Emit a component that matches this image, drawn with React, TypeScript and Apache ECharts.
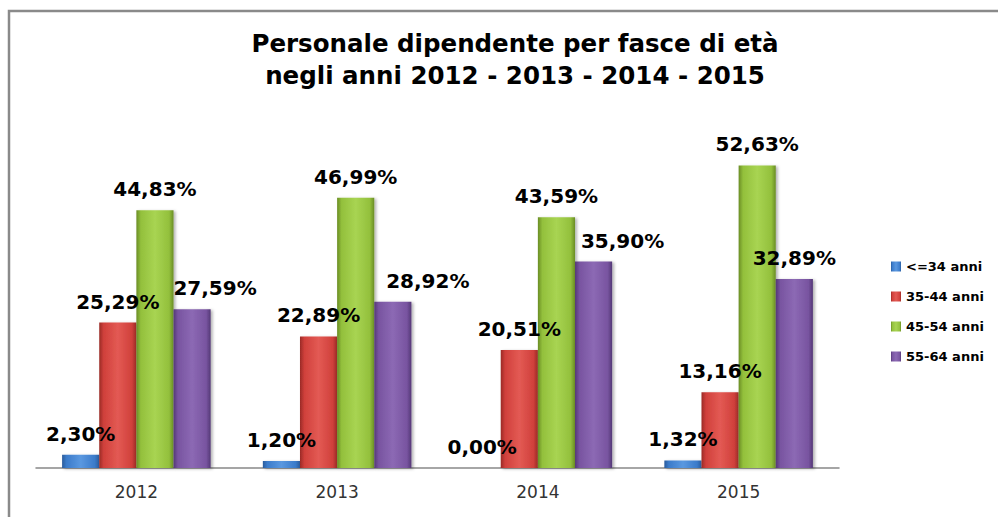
import React, { useEffect, useRef } from "react";
import * as echarts from "echarts";

const years = ["2012", "2013", "2014", "2015"];
const seriesNames = ["<=34 anni", "35-44 anni", "45-54 anni", "55-64 anni"];
const age34 = [2.3, 1.2, 0.0, 1.32];
const age44 = [25.29, 22.89, 20.51, 13.16];
const age54 = [44.83, 46.99, 43.59, 52.63];
const age64 = [27.59, 28.92, 35.9, 32.89];
const purpleLabelShift = [23, 35, 29, 0];

const palette = [
  { dark: "#2a5c9c", base: "#3b7bca", light: "#5a98e0" },
  { dark: "#9a2a26", base: "#d0403b", light: "#e35a54" },
  { dark: "#6a8d25", base: "#93c03c", light: "#a8d452" },
  { dark: "#543876", base: "#7854a0", light: "#8c69b4" },
];

function barColor(i: number) {
  const p = palette[i];
  return new echarts.graphic.LinearGradient(0, 0, 1, 0, [
    { offset: 0, color: p.dark },
    { offset: 0.12, color: p.base },
    { offset: 0.5, color: p.light },
    { offset: 0.88, color: p.base },
    { offset: 1, color: p.dark },
  ]);
}

const fmt = (v: number) => v.toFixed(2).replace(".", ",") + "%";

export default function App() {
  const ref = useRef<HTMLDivElement>(null);
  useEffect(() => {
    if (!ref.current) return;
    const chart = echarts.init(ref.current, undefined, { renderer: "svg" });
    const data = [age34, age44, age54, age64];
    const labelStyle = {
      show: true,
      position: "top" as const,
      distance: 11,
      fontFamily: "DejaVu Sans",
      fontWeight: "bold" as const,
      fontSize: 20,
      color: "#000",
      formatter: (p: any) => fmt(p.value),
    };
    chart.setOption({
      animation: false,
      backgroundColor: "#fff",
      title: {
        text: "Personale dipendente per fasce di età\nnegli anni 2012 - 2013 - 2014 - 2015",
        left: 510,
        top: 22,
        textAlign: "center",
        textStyle: {
          fontFamily: "DejaVu Sans",
          fontWeight: "bold",
          fontSize: 24.5,
          lineHeight: 32,
          color: "#000",
        },
      },
      graphic: [
        {
          type: "polyline",
          shape: { points: [[9, 517], [9, 11], [998, 11]] },
          style: { stroke: "#8a8a8a", lineWidth: 2.5, fill: "none" },
          silent: true,
        },
      ],
      legend: {
        orient: "vertical",
        left: 886,
        top: 255,
        itemWidth: 10,
        itemHeight: 10,
        itemGap: 17,
        icon: "rect",
        data: seriesNames,
        textStyle: {
          fontFamily: "DejaVu Sans",
          fontWeight: "bold",
          fontSize: 13,
          color: "#000",
        },
      },
      grid: { left: 36, right: 159, top: 123, bottom: 49 },
      xAxis: {
        type: "category",
        data: years,
        axisLine: { lineStyle: { color: "#888", width: 1.5 } },
        axisTick: { length: 6, lineStyle: { color: "#888", width: 1.5 } },
        axisLabel: {
          fontFamily: "DejaVu Sans",
          fontSize: 17,
          color: "#333",
          margin: 15,
        },
      },
      yAxis: {
        type: "value",
        min: 0,
        max: 60,
        show: false,
        splitLine: { show: false },
      },
      series: data.map((arr, i) => ({
        name: seriesNames[i],
        type: "bar",
        barGap: "0%",
        barCategoryGap: "26%",
        itemStyle: {
          color: barColor(i),
          shadowBlur: 3,
          shadowColor: "rgba(0,0,0,0.3)",
          shadowOffsetX: 2,
          shadowOffsetY: 1,
        },
        label: labelStyle,
        data: arr.map((v, j) =>
          i === 3
            ? { value: v, label: { offset: [purpleLabelShift[j], 0] } }
            : { value: v }
        ),
      })),
    });
    return () => chart.dispose();
  }, []);
  return (
    <div
      ref={ref}
      style={{ position: "absolute", left: 0, top: 0, width: 998, height: 517 }}
    />
  );
}
